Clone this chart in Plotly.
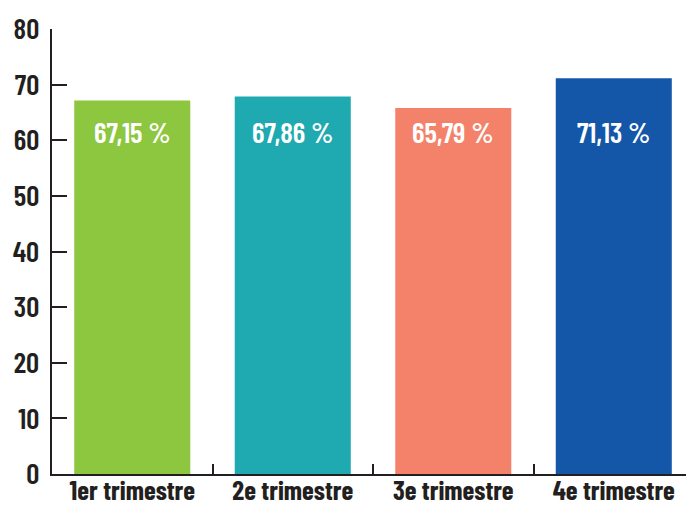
import plotly.graph_objects as go

categories = ["1er trimestre", "2e trimestre", "3e trimestre", "4e trimestre"]
values = [67.15, 67.86, 65.79, 71.13]
labels = ["67,15 %", "67,86 %", "65,79 %", "71,13 %"]
colors = ["#8DC63F", "#1FA9B1", "#F4826A", "#1457A8"]
y_ticks = [0, 10, 20, 30, 40, 50, 60, 70, 80]

FONT = "Barlow Condensed, Roboto Condensed, DejaVu Sans Condensed, sans-serif"
AX = "#231F20"

fig = go.Figure()
fig.add_trace(go.Bar(
    x=categories, y=values, marker=dict(color=colors, line=dict(width=0)),
    width=0.723, hoverinfo="skip",
))
for c, lab in zip(categories, labels):
    fig.add_annotation(x=c, y=61.5, text=lab, showarrow=False,
                       font=dict(family=FONT, size=29, color="white", weight=600),
                       xanchor="center", yanchor="middle")

fig.update_layout(
    width=686, height=505,
    margin=dict(l=52, r=0, t=29, b=31),
    paper_bgcolor="white", plot_bgcolor="white",
    showlegend=False,
    font=dict(family=FONT, color=AX),
)
fig.update_xaxes(
    range=[-0.5, 3.45], showgrid=False, zeroline=False,
    showline=True, linecolor=AX, linewidth=2,
    ticks="inside", tickson="boundaries", ticklen=10, tickcolor=AX, tickwidth=2,
    tickfont=dict(family=FONT, size=27, color=AX, weight="bold"),
    tickangle=0, automargin=False, ticklabelstandoff=-8,
)
fig.update_yaxes(
    range=[0, 80], showgrid=False, zeroline=False,
    showline=True, linecolor=AX, linewidth=2,
    tickvals=y_ticks, ticks="inside", ticklen=15, tickcolor=AX, tickwidth=2,
    tickfont=dict(family=FONT, size=29, color=AX, weight=600),
    automargin=False, ticklabelstandoff=5,
)
fig.write_html("out.html")
